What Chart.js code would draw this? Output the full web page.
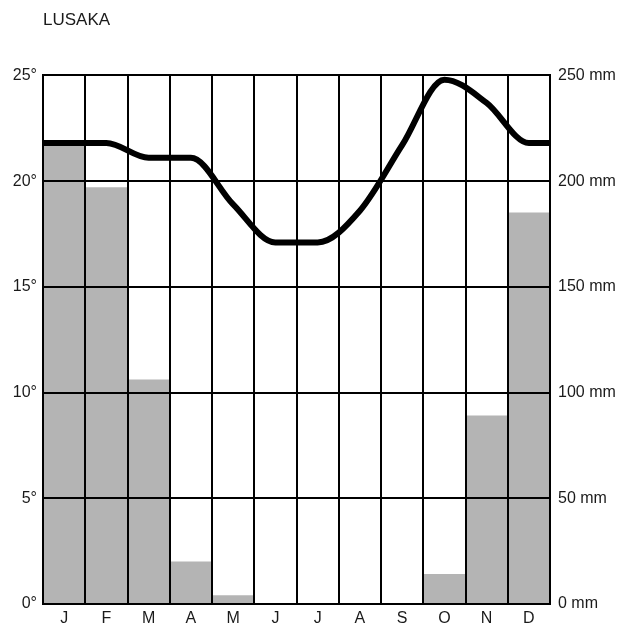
<!DOCTYPE html>
<html>
<head>
<meta charset="utf-8">
<title>Lusaka</title>
<script src="https://cdn.jsdelivr.net/npm/chart.js@4.4.1/dist/chart.umd.min.js"></script>
<style>
    html, body { margin: 0; padding: 0; background: #fff; }
    #climate { display: block; }
</style>
</head>
<body>
<canvas id="climate" width="629" height="627"></canvas>
<script>
const months = ['J', 'F', 'M', 'A', 'M', 'J', 'J', 'A', 'S', 'O', 'N', 'D'];
const temperature = [21.8, 21.8, 21.1, 21.1, 18.9, 17.1, 17.1, 18.6, 21.7, 24.8, 23.7, 21.8];
const rainfall = [218, 197, 106, 20, 4, 0, 0, 0, 0, 14, 89, 185];
const tempTicks = [0, 5, 10, 15, 20, 25];
const rainTicks = [0, 50, 100, 150, 200, 250];

const FONT = '"Liberation Sans", Arial, Helvetica, sans-serif';
const INK = '#1a1a1a';

// line points sit in the middle of each month column, held flat to both edges
const tempPoints = [{ x: 0, y: temperature[0] }];
temperature.forEach((t, i) => tempPoints.push({ x: i + 0.5, y: t }));
tempPoints.push({ x: months.length, y: temperature[temperature.length - 1] });

const ctx = document.getElementById('climate').getContext('2d');

const myChart = new Chart(ctx, {
    data: {
        labels: months,
        datasets: [
            {
                type: 'line',
                label: 'Temperature',
                data: tempPoints,
                xAxisID: 'xLine',
                yAxisID: 'y',
                borderColor: '#000',
                borderWidth: 6,
                pointRadius: 0,
                cubicInterpolationMode: 'monotone',
                fill: false,
                order: 1
            },
            {
                type: 'bar',
                label: 'Rainfall',
                data: rainfall,
                xAxisID: 'x',
                yAxisID: 'y2',
                backgroundColor: '#b4b4b4',
                borderWidth: 0,
                grouped: false,
                barPercentage: 1,
                categoryPercentage: 1,
                order: 2
            }
        ]
    },
    options: {
        responsive: false,
        animation: false,
        layout: { padding: 0 },
        plugins: {
            legend: { display: false },
            tooltip: { enabled: false },
            title: {
                display: true,
                text: 'LUSAKA',
                align: 'start',
                fullSize: false,
                color: INK,
                font: { family: FONT, size: 17, weight: 'normal' },
                padding: { top: 10, bottom: 45 }
            }
        },
        scales: {
            x: {
                type: 'category',
                position: 'bottom',
                offset: true,
                grid: { offset: true, color: '#000', lineWidth: 2, drawTicks: false, z: 1 },
                border: { color: '#000', width: 2, z: 1 },
                ticks: { color: INK, padding: 5, font: { family: FONT, size: 16 } },
                afterFit: scale => { scale.height = 23; }
            },
            xLine: {
                type: 'linear',
                display: false,
                min: 0,
                max: months.length
            },
            y: {
                type: 'linear',
                position: 'left',
                min: 0,
                max: 25,
                afterBuildTicks: scale => { scale.ticks = tempTicks.map(v => ({ value: v })); },
                grid: { color: '#000', lineWidth: 2, drawTicks: false, z: 1 },
                border: { color: '#000', width: 2, z: 1 },
                ticks: {
                    color: INK,
                    padding: 6,
                    font: { family: FONT, size: 16 },
                    callback: v => v + '°'
                },
                afterFit: scale => { scale.width = 43; }
            },
            y2: {
                type: 'linear',
                position: 'right',
                min: 0,
                max: 250,
                afterBuildTicks: scale => { scale.ticks = rainTicks.map(v => ({ value: v })); },
                grid: { display: false, drawTicks: false },
                border: { color: '#000', width: 2, z: 1 },
                ticks: {
                    color: INK,
                    padding: 8,
                    font: { family: FONT, size: 16 },
                    callback: v => v + ' mm'
                },
                afterFit: scale => { scale.width = 79; }
            }
        }
    }
});
</script>
</body>
</html>
